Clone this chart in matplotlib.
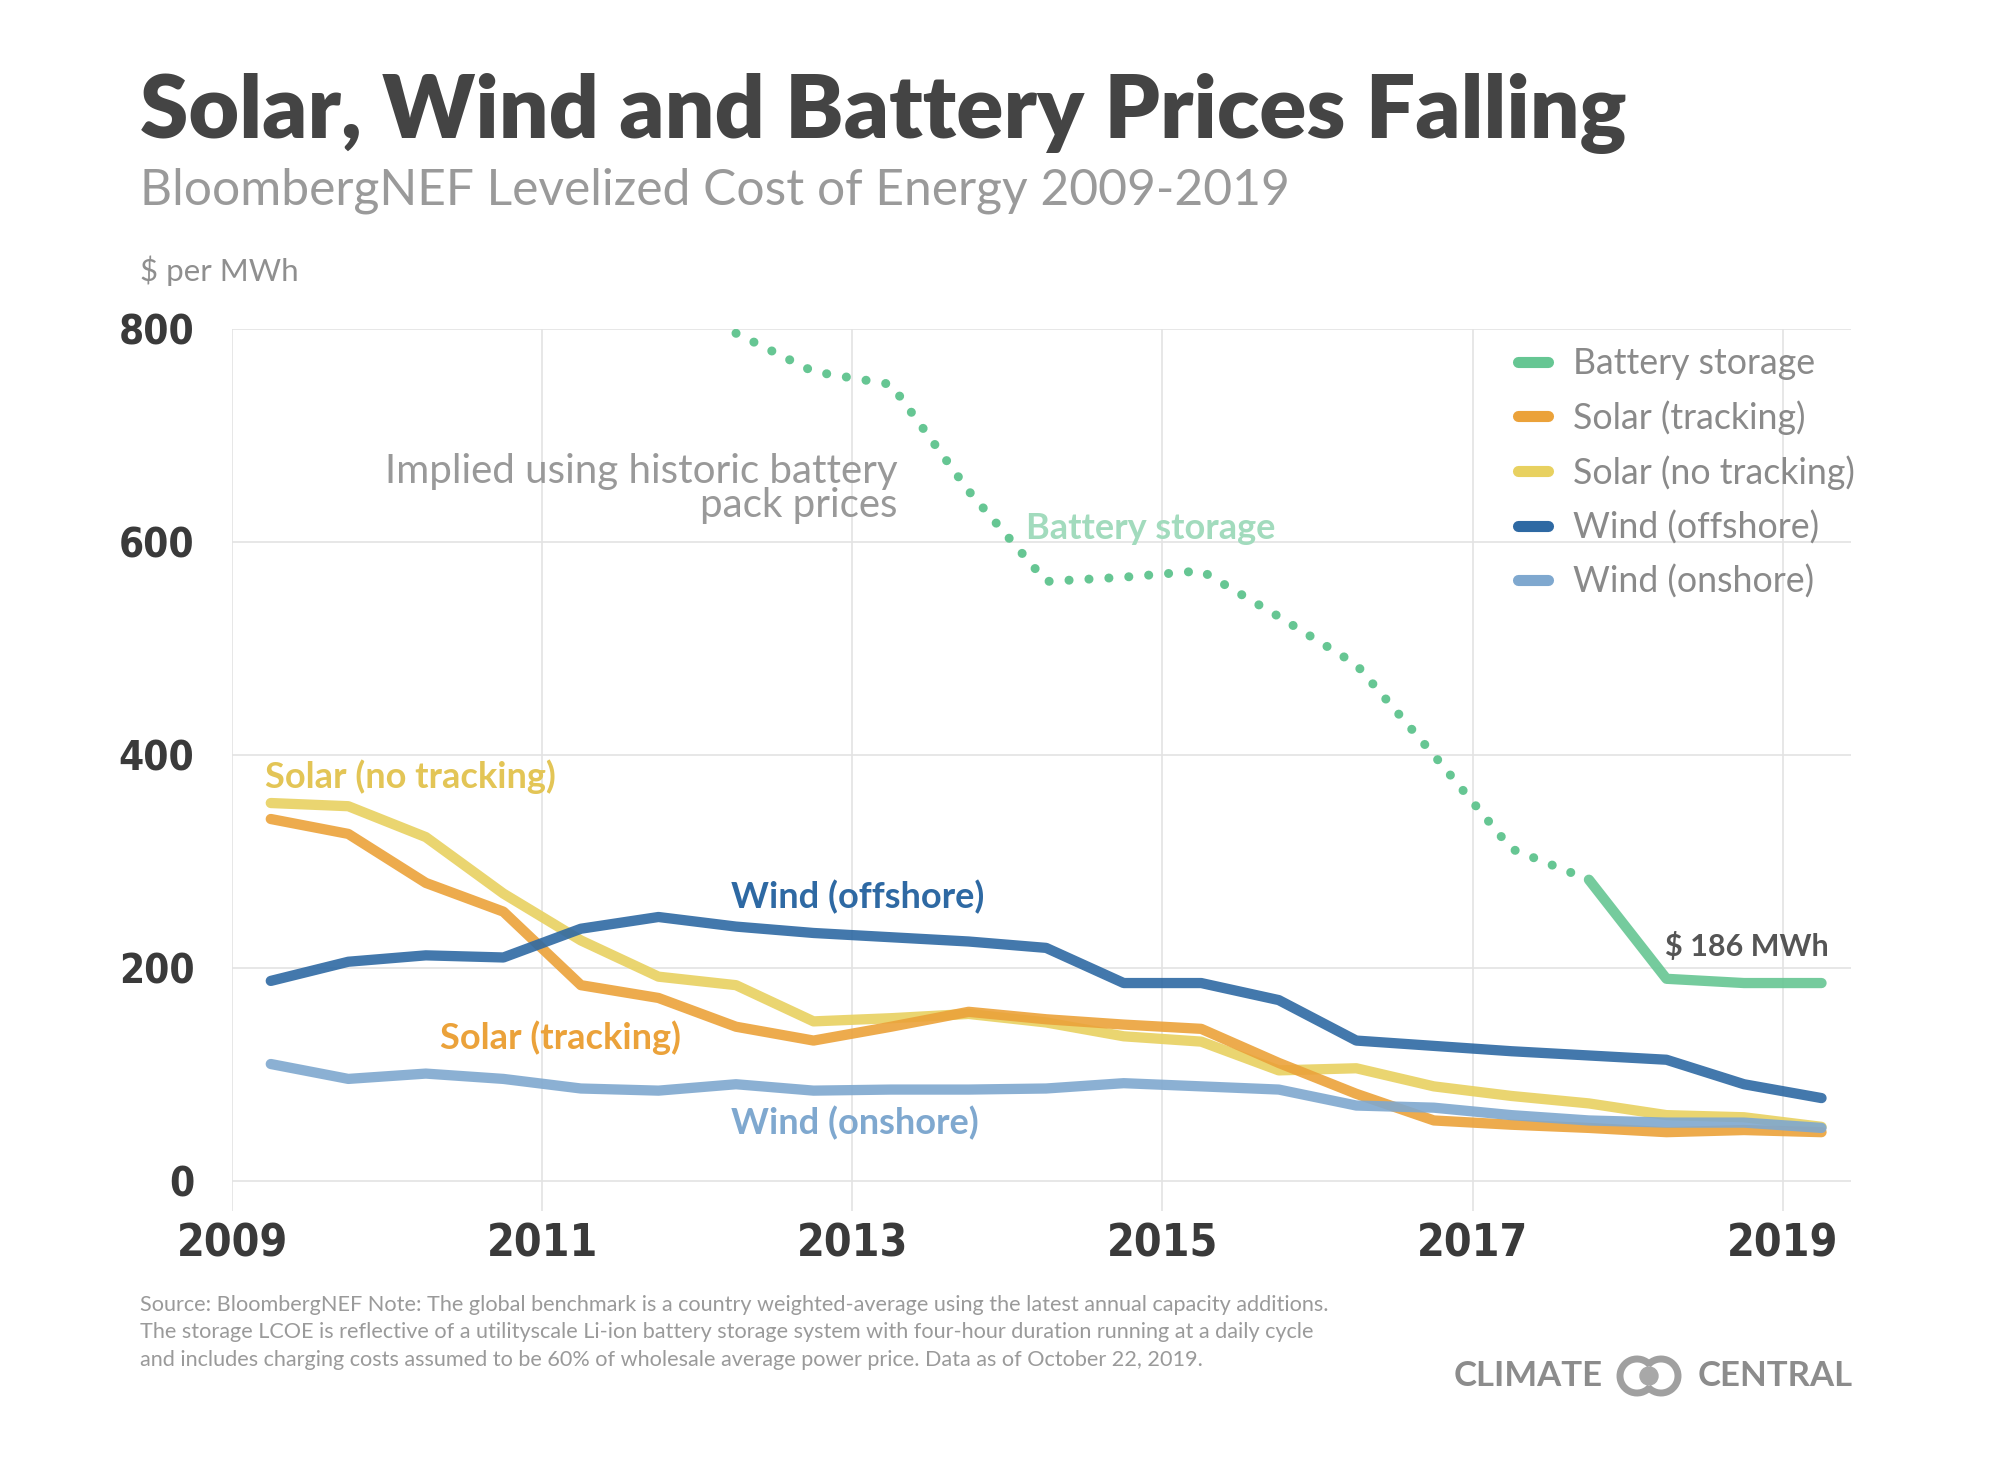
import numpy as np
import matplotlib.pyplot as plt
from matplotlib.lines import Line2D
from matplotlib.patches import Arc, Circle

# half-year points (BNEF semiannual LCOE)
years = [2009.25, 2009.75, 2010.25, 2010.75, 2011.25, 2011.75, 2012.25, 2012.75,
         2013.25, 2013.75, 2014.25, 2014.75, 2015.25, 2015.75, 2016.25, 2016.75,
         2017.25, 2017.75, 2018.25, 2018.75, 2019.25]

solar_no_tracking = [355, 352, 323, 270, 226, 192, 184, 150, 153, 157, 149,
                     136, 131, 104, 106, 89, 80, 73, 62, 60, 51]
solar_tracking = [340, 326, 280, 253, 184, 172, 145, 132, 145, 159, 152,
                  147, 143, 111, 82, 57, 53, 50, 46, 48, 46]
wind_offshore = [188, 206, 212, 210, 237, 248, 239, 233, 229, 225, 219,
                 186, 186, 170, 132, 127, 122, 118, 114, 91, 78]
wind_onshore = [110, 96, 101, 96, 87, 85, 91, 85, 86, 86, 87,
                92, 89, 86, 71, 69, 62, 57, 55, 55, 50]

# battery: implied from pack prices (dotted) then BNEF LCOE (solid)
battery_years = [2012.25, 2012.75, 2013.25, 2013.75, 2014.25, 2014.75, 2015.25,
                 2015.75, 2016.25, 2016.75, 2017.25, 2017.75, 2018.25, 2018.75, 2019.25]
battery = [796, 760, 748, 648, 563, 567, 573, 530, 485, 400, 312, 283, 190, 186, 186]
battery_split = 11  # index of 2017.75, where the solid line begins

x_ticks = [2009, 2011, 2013, 2015, 2017, 2019]
y_ticks = [0, 200, 400, 600, 800]

C_BATT = '#66c693'
C_TRACK = '#eba23a'
C_NOTRACK = '#e8d160'
C_OFF = '#2e69a3'
C_ON = '#7fa8cf'

W, H = 2000, 1468
fig = plt.figure(figsize=(20, 14.68), dpi=100)
plt.rcParams['font.family'] = ['Lato', 'DejaVu Sans']

def fx(px):
    return px / W

def fy(py):
    return 1 - py / H

ax = fig.add_axes([fx(232), fy(1211), fx(1851) - fx(232), fy(329) - fy(1211)])
ax.set_xlim(2009, 2019.44)
ax.set_ylim(-28, 800)

for yv in y_ticks:
    ax.plot([2009, 2019.44], [yv, yv], color='#e3e3e3', lw=1.2, zorder=0)
for xv in x_ticks:
    ax.plot([xv, xv], [-28, 800], color='#e3e3e3', lw=1.2, zorder=0)

lw = 7.4
kw = dict(lw=lw, solid_capstyle='round', solid_joinstyle='round', alpha=0.9)
ax.plot(years, solar_no_tracking, color=C_NOTRACK, **kw)
ax.plot(years, solar_tracking, color=C_TRACK, **kw)
ax.plot(years, wind_onshore, color=C_ON, **kw)
ax.plot(years, wind_offshore, color=C_OFF, **kw)
ax.plot(battery_years[:battery_split + 1], battery[:battery_split + 1], color=C_BATT,
        lw=6.5, linestyle=(0, (0.01, 2.2)), dash_capstyle='round')
ax.plot(battery_years[battery_split:], battery[battery_split:], color=C_BATT, **kw)

for s in ax.spines.values():
    s.set_visible(False)
ax.set_xticks(x_ticks)
ax.set_yticks(y_ticks)
ax.tick_params(length=0)
ax.tick_params(axis='y', pad=27)
ax.tick_params(axis='x', pad=8)
for lab in ax.get_xticklabels():
    lab.set_family('DejaVu Sans'); lab.set_stretch('condensed')
    lab.set_fontsize(32); lab.set_weight('bold'); lab.set_color('#3a3a3a')
for lab in ax.get_yticklabels():
    lab.set_family('DejaVu Sans'); lab.set_stretch('condensed')
    lab.set_fontsize(29); lab.set_weight('bold'); lab.set_color('#3a3a3a')

# inline labels
lab_kw = dict(fontsize=26, fontweight='bold', va='center', ha='left')
ax.text(2009.21, 380, 'Solar (no tracking)', color='#e3c556', **lab_kw)
ax.text(2012.22, 267, 'Wind (offshore)', color=C_OFF, **lab_kw)
ax.text(2010.34, 135, 'Solar (tracking)', color='#eba23a', **lab_kw)
ax.text(2012.22, 55, 'Wind (onshore)', color=C_ON, **lab_kw)
ax.text(2014.12, 613, 'Battery storage', color='#a2dbbd', **lab_kw)
ax.text(2018.24, 220, '$ 186 MWh', color='#555555', fontsize=22, fontweight='bold',
        va='center', ha='left')
ax.text(2013.29, 650, 'Implied using historic battery\npack prices', color='#999999',
        fontsize=29, ha='right', va='center', linespacing=0.9)

# legend
handles = [Line2D([], [], color=c, lw=8, solid_capstyle='round')
           for c in [C_BATT, C_TRACK, C_NOTRACK, C_OFF, C_ON]]
names = ['Battery storage', 'Solar (tracking)', 'Solar (no tracking)',
         'Wind (offshore)', 'Wind (onshore)']
leg = fig.legend(handles, names, loc='upper left', bbox_to_anchor=(fx(1518), fy(347)),
                 frameon=False, fontsize=25.7, handlelength=0.85, handletextpad=0.7,
                 labelspacing=0.57, labelcolor='#8a8a8a', borderpad=0, borderaxespad=0)

# titles
fig.text(fx(140), fy(138), 'Solar, Wind and Battery Prices Falling', fontsize=63,
         fontweight='heavy', color='#444444', va='baseline')
fig.text(fx(140), fy(204), 'BloombergNEF Levelized Cost of Energy 2009-2019', fontsize=35.8,
         color='#9a9a9a', va='baseline')
fig.text(fx(140), fy(281), '$ per MWh', fontsize=22.5, color='#8f8f8f', va='baseline')

# footer
foot = ['Source: BloombergNEF Note: The global benchmark is a country weighted-average using the latest annual capacity additions.',
        'The storage LCOE is reflective of a utilityscale Li-ion battery storage system with four-hour duration running at a daily cycle',
        'and includes charging costs assumed to be 60% of wholesale average power price. Data as of October 22, 2019.']
for i, line in enumerate(foot):
    fig.text(fx(140), fy(1311 + 27.5 * i), line, fontsize=15.6, color='#9a9a9a', va='baseline')

# logo
fig.text(fx(1454), fy(1376), 'CLIMATE', fontsize=25, fontweight='bold', color='#8c8c8c', va='center')
fig.text(fx(1853), fy(1376), 'CENTRAL', fontsize=25, fontweight='bold', color='#8c8c8c',
         va='center', ha='right')
lax = fig.add_axes([fx(1615), fy(1398), fx(68), 44 / H])
lax.set_xlim(0, 68)
lax.set_ylim(0, 44)
lax.set_aspect('equal')
lax.axis('off')
lax.add_patch(Arc((22, 22), 34, 34, theta1=40, theta2=320, lw=5, color='#a0a0a0'))
lax.add_patch(Arc((46, 22), 34, 34, theta1=220, theta2=140, lw=5, color='#a0a0a0'))
lax.add_patch(Circle((34, 22), 9, color='#a8a8a8'))

fig.savefig('out.png', dpi=100, facecolor='white')
